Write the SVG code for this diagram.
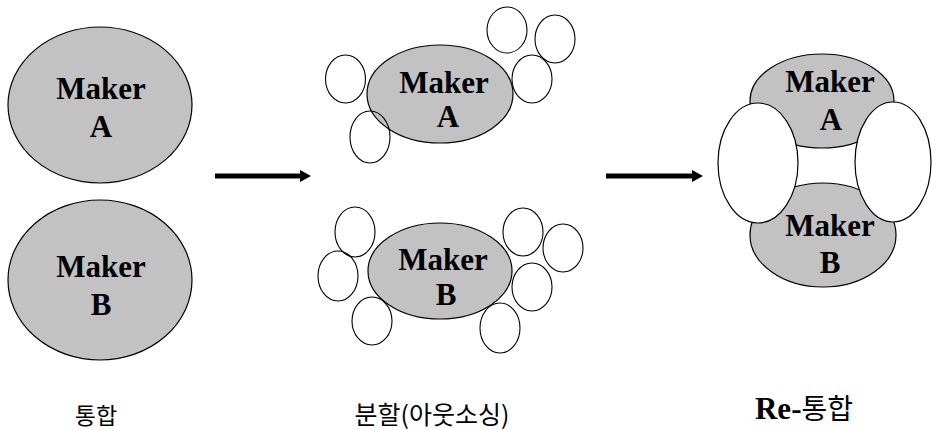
<svg xmlns="http://www.w3.org/2000/svg" width="932" height="430" viewBox="0 0 932 430">
<style>
.maker{fill:#c2c2c2;stroke:#000;stroke-width:1.2}
.sub{fill:none;stroke:#000;stroke-width:1.1}
.oval{fill:#fff;stroke:#000;stroke-width:1.2}
.lbl{font-family:'Liberation Serif','Times New Roman',serif;font-weight:bold;font-size:31px;fill:#000;text-anchor:middle}
.ko{font-family:'Noto Sans CJK KR','Noto Sans',sans-serif;fill:#000;text-anchor:middle}
.arrow{stroke:#000;stroke-width:5;fill:none}
</style>
<defs>
<marker id="ah" markerWidth="12" markerHeight="12" refX="0" refY="6" orient="auto" markerUnits="userSpaceOnUse">
<path d="M0,0 L11,6 L0,12 Z" fill="#000"/>
</marker>
</defs>
<rect width="932" height="430" fill="#fff"/>

<g id="left-maker-a">
<ellipse class="maker" cx="100" cy="105" rx="92" ry="78"/>
<text class="lbl" x="101" y="99" font-family="Liberation Serif, serif">Maker</text>
<text class="lbl" x="101" y="137" font-family="Liberation Serif, serif">A</text>
</g>
<g id="left-maker-b">
<ellipse class="maker" cx="100" cy="280" rx="92" ry="80"/>
<text class="lbl" x="101" y="277" font-family="Liberation Serif, serif">Maker</text>
<text class="lbl" x="101" y="315" font-family="Liberation Serif, serif">B</text>
</g>

<g id="mid-maker-a">
<ellipse class="maker" cx="440" cy="94" rx="73" ry="49"/>
<text class="lbl" x="444" y="93" font-family="Liberation Serif, serif">Maker</text>
<text class="lbl" x="448" y="127" font-family="Liberation Serif, serif">A</text>
<ellipse class="sub" cx="345.5" cy="79" rx="20" ry="24"/>
<ellipse class="sub" cx="370" cy="137" rx="20" ry="26"/>
<ellipse class="sub" cx="507" cy="30" rx="20" ry="23"/>
<ellipse class="sub" cx="555" cy="39" rx="20" ry="24"/>
<ellipse class="sub" cx="532" cy="79" rx="20" ry="24"/>
</g>
<g id="mid-maker-b">
<ellipse class="maker" cx="440" cy="271" rx="72" ry="48"/>
<text class="lbl" x="443" y="270" font-family="Liberation Serif, serif">Maker</text>
<text class="lbl" x="446" y="305" font-family="Liberation Serif, serif">B</text>
<ellipse class="sub" cx="355" cy="232" rx="20" ry="25"/>
<ellipse class="sub" cx="338" cy="276" rx="20" ry="25"/>
<ellipse class="sub" cx="372" cy="321" rx="20" ry="24"/>
<ellipse class="sub" cx="523" cy="232" rx="20" ry="24"/>
<ellipse class="sub" cx="563" cy="248" rx="20" ry="24"/>
<ellipse class="sub" cx="532" cy="287" rx="20" ry="24"/>
<ellipse class="sub" cx="500" cy="328" rx="20" ry="25"/>
</g>

<g id="right-reintegrated">
<ellipse class="maker" cx="822" cy="101" rx="72" ry="47"/>
<ellipse class="maker" cx="823" cy="235" rx="73" ry="52"/>
<ellipse class="oval" cx="758" cy="163" rx="40" ry="60"/>
<ellipse class="oval" cx="893" cy="162" rx="38" ry="60"/>
<text class="lbl" x="830" y="92" font-family="Liberation Serif, serif">Maker</text>
<text class="lbl" x="831" y="130" font-family="Liberation Serif, serif">A</text>
<text class="lbl" x="830" y="236" font-family="Liberation Serif, serif">Maker</text>
<text class="lbl" x="830" y="273" font-family="Liberation Serif, serif">B</text>
</g>

<g id="connectors">
<line class="arrow" x1="215" y1="176" x2="300" y2="176" marker-end="url(#ah)"/>
<line class="arrow" x1="606" y1="176" x2="692" y2="176" marker-end="url(#ah)"/>
</g>

<g id="captions">
<text class="ko" x="96" y="424" font-size="23">통합</text>
<text class="ko" x="432" y="424" font-size="25">분할(아웃소싱)</text>
<text x="804" y="419" text-anchor="middle" fill="#000"><tspan font-family="Liberation Serif, serif" font-weight="bold" font-size="31">Re-</tspan><tspan font-family="Noto Sans CJK KR, sans-serif" font-size="28">통합</tspan></text>
</g>
</svg>
